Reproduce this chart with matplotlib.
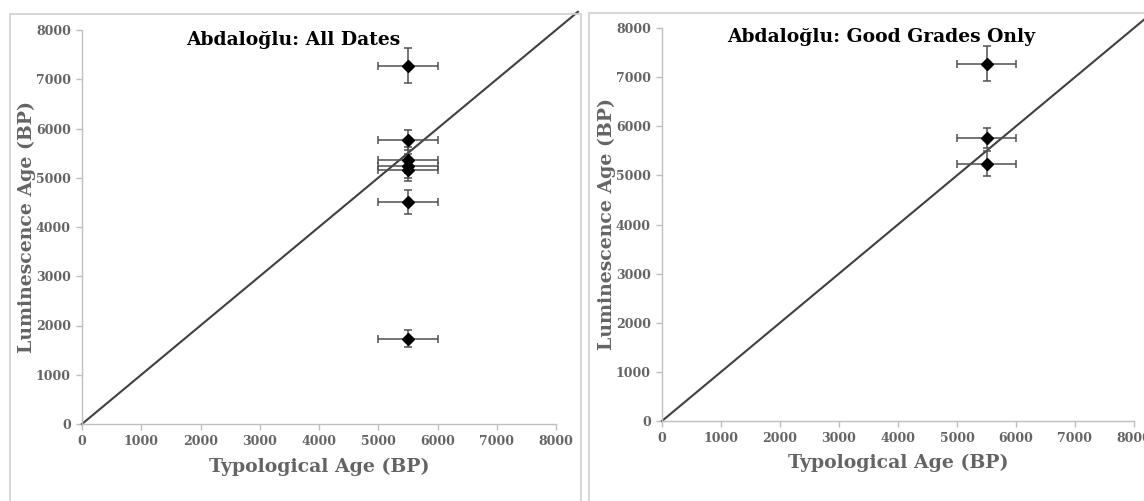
import matplotlib
matplotlib.use("Agg")
import matplotlib.pyplot as plt
from matplotlib.patches import Rectangle

# ---- data ----
titles = ["Abdaloğlu: All Dates", "Abdaloğlu: Good Grades Only"]
x_label = "Typological Age (BP)"
y_label = "Luminescence Age (BP)"
ticks = [0, 1000, 2000, 3000, 4000, 5000, 6000, 7000, 8000]

all_typo = [5500, 5500, 5500, 5500, 5500, 5500, 5500]
all_typo_err = [500, 500, 500, 500, 500, 500, 500]
all_lum = [7270, 5760, 5360, 5240, 5150, 4510, 1730]
all_lum_err = [355, 200, 260, 250, 220, 240, 170]

good_typo = [5500, 5500, 5500]
good_typo_err = [500, 500, 500]
good_lum = [7270, 5760, 5240]
good_lum_err = [355, 200, 255]

line_x = [0, 8370]
line_y = [0, 8370]

W, H = 1144, 501
fig = plt.figure(figsize=(W / 100, H / 100), dpi=100)
fig.patch.set_facecolor("white")

def fx(px):
    return px / W

def fy(py):
    return 1 - py / H

# panel frames
fig.patches.append(Rectangle((fx(10), fy(506)), fx(571), (506 - 14) / H,
                             transform=fig.transFigure, fill=False,
                             edgecolor="#d0d0d0", linewidth=1.2))
fig.patches.append(Rectangle((fx(589), fy(506)), fx(600), (506 - 13) / H,
                             transform=fig.transFigure, fill=False,
                             edgecolor="#d0d0d0", linewidth=1.2))

axes_px = [(82, 30, 556, 424), (662, 28, 1134, 421)]
datasets = [(all_typo, all_lum, all_typo_err, all_lum_err),
            (good_typo, good_lum, good_typo_err, good_lum_err)]
title_pos = [(3560, 7790), (3720, 7820)]
xlabel_y = [467, 463]
ylabel_x = [27, 607]

gray = "#646464"
serif = ["DejaVu Serif"]

for i, (l, t, r, b) in enumerate(axes_px):
    ax = fig.add_axes([fx(l), fy(b), (r - l) / W, (b - t) / H])
    ax.set_xlim(0, 8000)
    ax.set_ylim(0, 8000)
    ax.set_xticks(ticks)
    ax.set_yticks(ticks)
    ax.set_xticklabels([str(v) for v in ticks], fontsize=9, fontweight="bold",
                       color=gray, family=serif)
    ax.set_yticklabels([str(v) for v in ticks], fontsize=9, fontweight="bold",
                       color=gray, family=serif)
    for s in ["top", "right"]:
        ax.spines[s].set_visible(False)
    for s in ["left", "bottom"]:
        ax.spines[s].set_color("#bfbfbf")
        ax.spines[s].set_linewidth(1.0)
    ax.tick_params(axis="both", direction="out", length=4, width=1,
                   color="#bfbfbf", pad=4)
    ax.set_facecolor("none")

    ax.plot(line_x, line_y, color="#404040", linewidth=1.5, clip_on=False, zorder=2)

    xs, ys, xe, ye = datasets[i]
    ax.errorbar(xs, ys, xerr=xe, yerr=ye, fmt="D", color="black",
                markersize=6, ecolor="#505050", elinewidth=1.1,
                capsize=3, capthick=1.1, zorder=3, clip_on=False)

    ax.text(title_pos[i][0], title_pos[i][1], titles[i], ha="center", va="center",
            fontsize=13.5, fontweight="bold", color="black", family=serif)

    fig.text(fx((l + r) / 2), fy(xlabel_y[i]), x_label,
             ha="center", va="center", fontsize=13.6, fontweight="bold",
             color=gray, family=serif)
    fig.text(fx(ylabel_x[i]), fy((t + b) / 2), y_label, rotation=90,
             ha="center", va="center", fontsize=13.6, fontweight="bold",
             color=gray, family=serif)

fig.savefig("out.png", dpi=100)
